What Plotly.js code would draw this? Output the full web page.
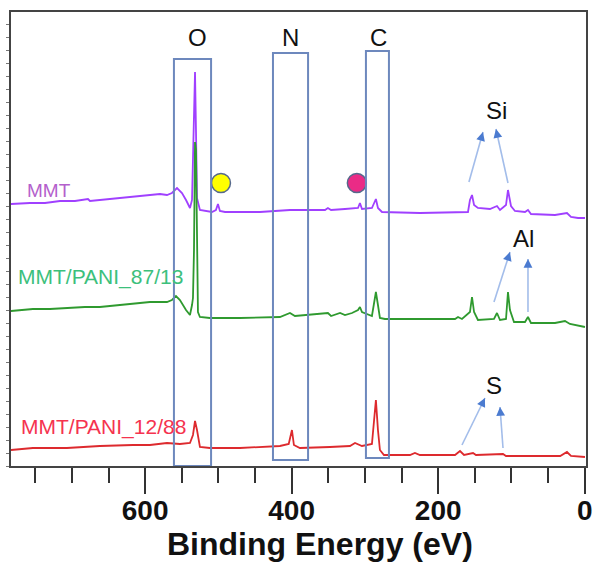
<!DOCTYPE html>
<html>
<head>
<meta charset="utf-8">
<script src="https://cdn.plot.ly/plotly-3.0.1.min.js"></script>
<style>html,body{margin:0;padding:0;background:#fff;}#chart{width:593px;height:563px;}</style>
</head>
<body>
<div id="chart"></div>
<script>
// ---------- data (binding energy in eV, intensity in arbitrary offset units) ----------
const energyMMT = [783.2,757.2,736.7,716.2,695.8,678,675.3,648,627.6,607.1,593.4,579.7,570.2,563.4,556.5,549.7,544.2,538.8,536,534.7,533.3,531.9,530.6,529.2,525.2,518.4,508.8,503.4,500.6,497.9,491,443.3,416,405,402.3,375,354.5,350.5,346.2,327.2,309.4,306.8,304,290.4,285,282.2,276.7,224.9,159.3,156.6,153.8,151,145.7,129.3,119.7,115.6,107.4,104.7,100.6,95.2,81.5,77.4,73.3,40.5,29.6,24.2,18.7,9.1,-0.4];
const intensityMMT = [262,263,263,265,265,267,265,267,268,270,271,272,271,273,278,273,266,258,266,304,341,394,336,268,256,255,254,256,262,255,254,254,255,256,256,256,256,258,256,257,258,263,257,258,267,258,254,253,254,266,271,261,258,257,260,256,261,276,260,255,254,256,252,251,252,253,249,248,248];

const energy8713 = [783.2,753.2,730,706.8,682.2,661.8,634.5,616.8,593.4,570.2,563.4,557.9,552.5,544.2,538.8,536,534.7,533.3,531.9,530.6,529.2,527.9,525.2,511.6,470.6,416,402.3,395.5,350.5,346.2,333.9,327.2,317.6,309.4,306.8,304,290.4,287.6,285,282.2,279.5,272.6,177,172.9,167.5,156.6,153.8,151,145.7,123.8,119.7,115.6,107.4,104.7,102,96.5,81.5,77.4,73.3,40.5,26.9,20.1,-0.4];
const intensity8713 = [155,157,157,158,159,159,161,163,164,164,166,170,166,156,151,161,168,216,324,316,216,154,149,148,148,149,153,150,153,150,153,151,153,156,159,154,150,161,174,161,148,147,147,149,147,154,169,154,146,147,153,146,147,174,156,144,144,149,143,143,145,142,139];

const energy1288 = [783.2,770.9,753.2,706.8,682.2,661.8,616.8,593.4,570.2,552.5,538.8,534.7,531.9,529.2,525.2,511.6,470.6,443.3,416,404,401.2,399.6,396.9,388.7,347.7,320.4,313.5,304,290.4,287.6,285,282.2,279.5,274,238.5,231.7,224.9,177,170.2,164.7,152.4,148.4,111.5,107.4,33.4,24.2,18.7,-0.4];
const intensity1288 = [16,17,18,18,19,20,21,21,23,22,23,31,45,36,19,18,18,19,20,22,31,36,21,18,19,20,23,20,22,46,66,36,16,11,11,13,11,11,15,11,13,11,12,10,10,14,10,9];

const seriesNames = ['MMT', 'MMT/PANI_87/13', 'MMT/PANI_12/88'];
const lineColors = ['#a040ff', '#2f9a2f', '#dd2a2e'];
const labelColors = ['#b45fcc', '#3cc07c', '#f5334f'];

const regionLabels = ['O', 'N', 'C'];
const regionStart = [560.7, 425.5, 298.6];   // eV (left edge of box)
const regionEnd = [510, 377.6, 267.2];       // eV (right edge of box)
const regionBottom = [0, 6, 8];
const regionTop = [407, 413, 415];
const regionLabelE = [528, 402, 282];

const xTickVals = [600, 400, 200, 0];
const xTitle = 'Binding Energy (eV)';

// marker circles (yellow: near 497 eV, pink: near 311 eV)
const circleE = [496.5, 311];
const circleI = [283, 283];
const circleColors = ['#ffff00', '#ea2b86'];

// element arrows: start (tail) and end (tip)
const elementNames = ['Si', 'Al', 'S'];
const elementLabelE = [121, 83, 123.8];
const elementLabelI = [356, 228, 81];
const arrowStartE = [158, 104.7, 123.8, 77.4, 167.5, 111.5];
const arrowStartI = [284, 283, 164, 154, 21, 18];
const arrowEndE = [138.8, 121.1, 102, 77.4, 136.1, 115.6];
const arrowEndI = [334, 337, 214, 207, 68, 59];

// ---------- geometry ----------
const W = 593, H = 563;
const M = {l: 11, r: 7, t: 12, b: 97};
const xRange = [783.1, -1.8];
const yRange = [0, 454];
const plotW = W - M.l - M.r, plotH = H - M.t - M.b;
const pxPerE = plotW / (xRange[0] - xRange[1]);
const pxPerI = plotH / (yRange[1] - yRange[0]);

const energies = [energyMMT, energy8713, energy1288];
const intensities = [intensityMMT, intensity8713, intensity1288];
const order = [0, 2, 1];
const traces = order.map(i => ({
  type: 'scatter', mode: 'lines', x: energies[i], y: intensities[i], name: seriesNames[i],
  line: {color: lineColors[i], width: 1.8}, hoverinfo: 'skip'
}));
traces.push({
  type: 'scatter', mode: 'markers', x: circleE, y: circleI,
  marker: {size: 19, color: circleColors, line: {color: '#56698c', width: 1.5}}, hoverinfo: 'skip'
});

const shapes = [];
const annotations = [];
for (let i = 0; i < regionLabels.length; i++) {
  shapes.push({type: 'rect', xref: 'x', yref: 'y', x0: regionStart[i], x1: regionEnd[i], y0: regionBottom[i], y1: regionTop[i],
    line: {color: '#6d88bd', width: 2}, fillcolor: 'rgba(0,0,0,0)'});
  annotations.push({xref: 'x', yref: 'y', x: regionLabelE[i], y: 429, text: regionLabels[i], showarrow: false,
    font: {family: 'Liberation Sans, Arial, sans-serif', size: 24, color: '#111'}, xanchor: 'center', yanchor: 'middle'});
}
for (let i = 0; i < elementNames.length; i++) {
  annotations.push({xref: 'x', yref: 'y', x: elementLabelE[i], y: elementLabelI[i], text: elementNames[i], showarrow: false,
    font: {family: 'Liberation Sans, Arial, sans-serif', size: 24, color: '#111'}, xanchor: 'center', yanchor: 'middle'});
}
for (let k = 0; k < arrowStartE.length; k++) {
  shapes.push({type: 'line', xref: 'x', yref: 'y', x0: arrowStartE[k], y0: arrowStartI[k], x1: arrowEndE[k], y1: arrowEndI[k],
    line: {color: '#a3bdea', width: 1.6}});
  const dxp = -(arrowEndE[k] - arrowStartE[k]) * pxPerE;
  const dyp = -(arrowEndI[k] - arrowStartI[k]) * pxPerI;
  const len = Math.hypot(dxp, dyp);
  annotations.push({xref: 'x', yref: 'y', x: arrowEndE[k], y: arrowEndI[k], text: '', showarrow: true,
    ax: -dxp / len * 6, ay: -dyp / len * 6, arrowhead: 2, arrowsize: 1.1, arrowwidth: 1.6, arrowcolor: '#4b7bd0'});
}
const labelE = [764.1, 776.3, 772.2];
const labelI = [276, 189, 39];
const labelSize = [19, 21, 21];
for (let i = 0; i < seriesNames.length; i++) {
  annotations.push({xref: 'x', yref: 'y', x: labelE[i], y: labelI[i], text: seriesNames[i], showarrow: false,
    xanchor: 'left', yanchor: 'middle',
    font: {family: 'Liberation Sans Narrow, Arial Narrow, Liberation Sans, sans-serif', size: labelSize[i], color: labelColors[i]}});
}
annotations.push({xref: 'paper', yref: 'paper', x: (320 - M.l) / plotW, y: -(544 - (H - M.b)) / plotH, text: xTitle,
  showarrow: false, xanchor: 'center', yanchor: 'middle',
  font: {family: 'Liberation Sans, Arial, sans-serif', size: 32, weight: 'bold', color: '#111'}});

const layout = {
  width: W, height: H, margin: {l: M.l, r: M.r, t: M.t, b: M.b, pad: 0},
  paper_bgcolor: '#fff', plot_bgcolor: '#fff', showlegend: false,
  xaxis: {
    range: xRange, tickvals: xTickVals, ticktext: xTickVals.map(String),
    ticks: 'outside', ticklen: 26, tickwidth: 2, tickcolor: '#333', ticklabelstandoff: -8,
    minor: {dtick: 50, tick0: 0, ticks: 'outside', ticklen: 15, tickwidth: 2, tickcolor: '#333', showgrid: false},
    tickfont: {family: 'Liberation Sans, Arial, sans-serif', size: 28, weight: 'bold', color: '#111'},
    showline: true, linecolor: '#444', linewidth: 2, mirror: true, showgrid: false, zeroline: false
  },
  yaxis: {
    range: yRange, showticklabels: false, ticks: 'outside', ticklen: 3, tickwidth: 1, tickcolor: '#777', dtick: 13,
    showline: true, linecolor: '#444', linewidth: 2, mirror: true, showgrid: false, zeroline: false
  },
  shapes: shapes, annotations: annotations
};
Plotly.newPlot('chart', traces, layout, {staticPlot: true, displayModeBar: false});
</script>
</body>
</html>
